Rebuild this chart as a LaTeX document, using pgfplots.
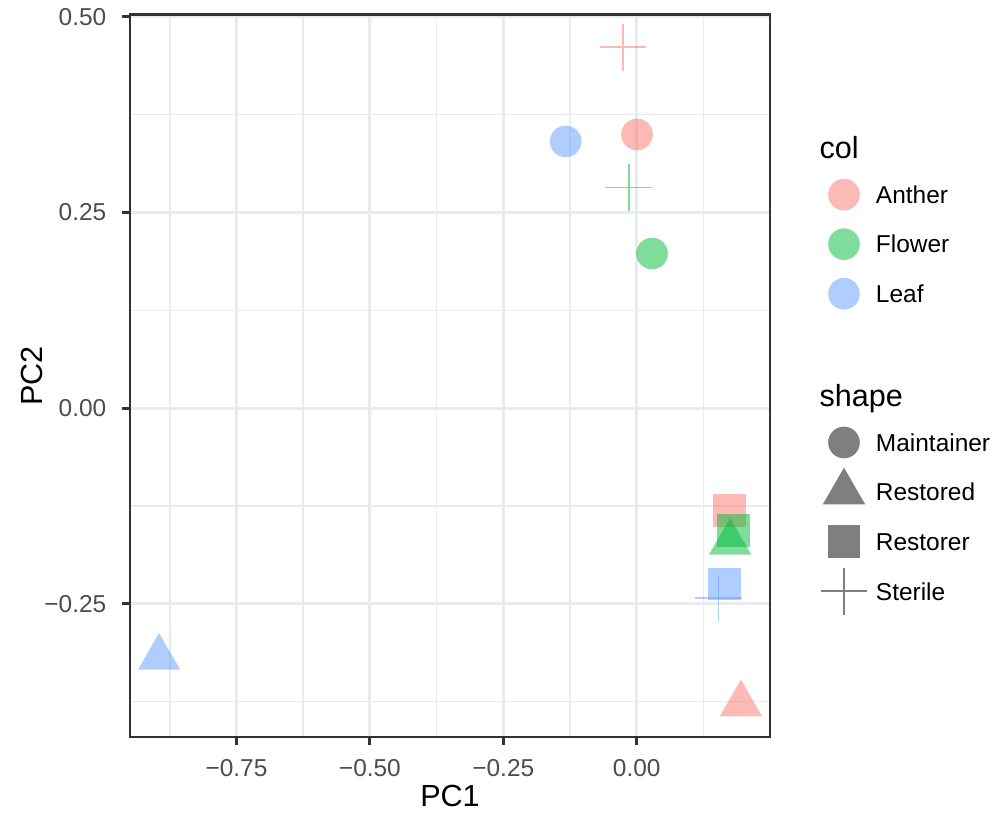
\documentclass[border=0pt]{standalone}
\usepackage{pgfplots}
\pgfplotsset{compat=1.18}
\usepackage{fontspec}
\setmainfont{Liberation Sans}
\definecolor{anther}{HTML}{F8766D}
\definecolor{flower}{HTML}{00BA38}
\definecolor{leaf}{HTML}{619CFF}
\definecolor{gridmaj}{HTML}{EBEBEB}
\definecolor{grey20}{HTML}{333333}
\definecolor{grey30}{HTML}{4D4D4D}
\pgfplotsset{
  maint/.style={only marks, color=#1, mark=*, mark size=5.7pt, mark options={fill=#1, draw opacity=0, fill opacity=0.5}},
  rested/.style={only marks, color=#1, mark=triangle*, mark size=8.8pt, mark options={fill=#1, draw opacity=0, fill opacity=0.5}},
  rester/.style={only marks, color=#1, mark=square*, mark size=5.9pt, mark options={fill=#1, draw opacity=0, fill opacity=0.5}},
  steril/.style={only marks, color=#1, mark=+, mark size=8.4pt, mark options={draw=#1, line width=0.6pt, draw opacity=0.5}},
}
\begin{document}
\begin{tikzpicture}
\path[use as bounding box] (-46.8pt,-28.44pt) rectangle (314.64pt,265.32pt);
\begin{axis}[
  scale only axis,
  width=230.4pt, height=260.1pt,
  xmin=-0.9496, xmax=0.2498,
  ymin=-0.4203, ymax=0.5031,
  xtick={-0.75,-0.5,-0.25,0},
  xticklabels={−0.75,−0.50,−0.25,0.00},
  ytick={-0.25,0,0.25,0.5},
  yticklabels={−0.25,0.00,0.25,0.50},
  minor xtick={-0.875,-0.625,-0.375,-0.125,0.125},
  minor ytick={-0.375,-0.125,0.125,0.375},
  minor tick length=0pt,
  major tick length=2.75pt,
  tick align=outside,
  tick pos=left,
  grid=both,
  major grid style={gridmaj, line width=1.07pt},
  minor grid style={gridmaj, line width=0.53pt},
  tick style={grey20, line width=1.07pt},
  axis line style={grey20, line width=1.07pt},
  ticklabel style={font=\fontsize{8.8}{10}\selectfont, text=grey30, inner sep=0pt},
  xticklabel style={anchor=base},
  xticklabel shift=11.63pt,
  yticklabel style={anchor=east},
  yticklabel shift=5.6pt,
  xlabel={PC1}, ylabel={PC2},
  label style={font=\fontsize{11}{13}\selectfont, inner sep=0pt},
  xlabel style={at={(axis description cs:0.5,0)}, anchor=base, yshift=-25.2pt},
  ylabel style={at={(axis description cs:-0.13715,0.5)}, anchor=base, rotate=0},
  legend cell align=left,
  legend style={at={(axis description cs:1.07656,0.78503)}, anchor=north west,
    draw=none, fill=none, inner sep=0pt, outer sep=0pt, row sep=0pt, column sep=2.52pt,
    font=\fontsize{8.8}{10}\selectfont,
    nodes={inner sep=0pt, minimum height=17.85pt, text height=6.3pt, text depth=0pt}},
  legend image code/.code={
    \pgfpathrectangle{\pgfpoint{-9pt}{-8.9pt}}{\pgfpoint{18pt}{17.8pt}}\pgfusepath{discard}
    \draw[#1] plot coordinates {(0pt,0pt)};
  },
  clip=false,
]
% legend entries
\addlegendimage{maint=anther}\addlegendentry{Anther}
\addlegendimage{maint=flower}\addlegendentry{Flower}
\addlegendimage{maint=leaf}\addlegendentry{Leaf}
\addlegendimage{empty legend}\addlegendentry{}
\addlegendimage{empty legend}\addlegendentry{}
\addlegendimage{maint=black}\addlegendentry{Maintainer}
\addlegendimage{rested=black}\addlegendentry{Restored}
\addlegendimage{rester=black}\addlegendentry{Restorer}
\addlegendimage{steril=black}\addlegendentry{Sterile}
% data
\addplot[maint=anther, forget plot] coordinates {(0.0006,0.3498)};
\addplot[maint=leaf, forget plot] coordinates {(-0.1330,0.3409)};
\addplot[maint=flower, forget plot] coordinates {(0.0287,0.1976)};
\addplot[rester=anther, forget plot] coordinates {(0.1736,-0.1310)};
\addplot[rester=flower, forget plot] coordinates {(0.1820,-0.1565)};
\addplot[rester=leaf, forget plot] coordinates {(0.1648,-0.2249)};
\addplot[rested=flower, forget plot] coordinates {(0.1751,-0.1715)};
\addplot[rested=leaf, forget plot] coordinates {(-0.8951,-0.3187)};
\addplot[rested=anther, forget plot] coordinates {(0.1953,-0.3782)};
\addplot[steril=anther, forget plot] coordinates {(-0.0257,0.4613)};
\addplot[steril=flower, forget plot] coordinates {(-0.0150,0.2818)};
\addplot[steril=leaf, forget plot] coordinates {(0.1536,-0.2428)};
% legend titles
\node[anchor=base west, inner sep=0pt, font=\fontsize{11}{13}\selectfont] at (axis description cs:1.07656,0.80069) {col};
\node[anchor=base west, inner sep=0pt, font=\fontsize{11}{13}\selectfont] at (axis description cs:1.07656,0.45714) {shape};
\end{axis}
\end{tikzpicture}
\end{document}
